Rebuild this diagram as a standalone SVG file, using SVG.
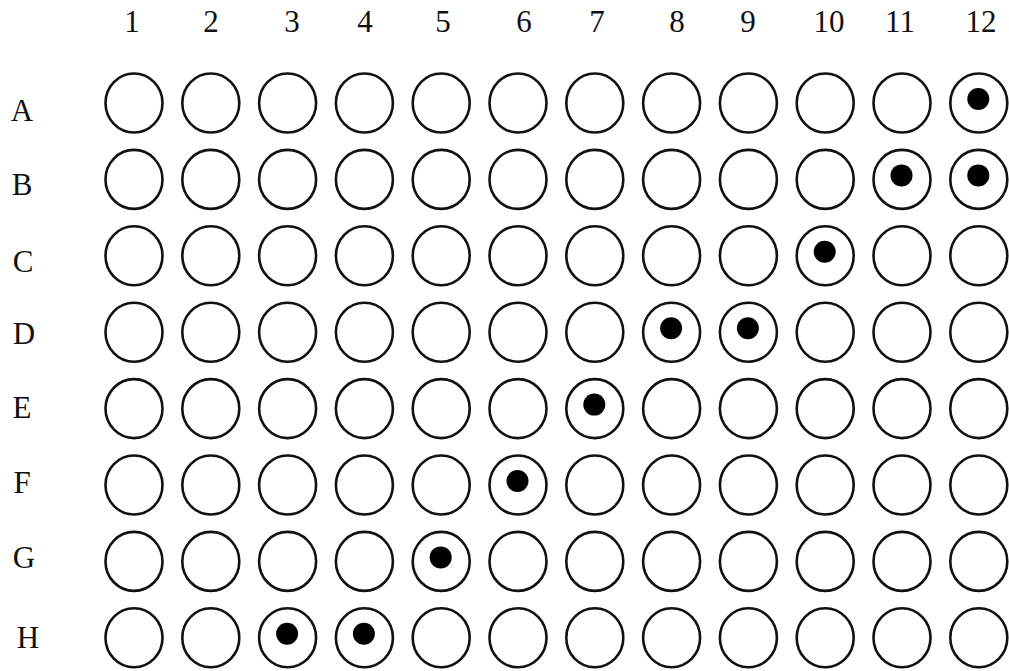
<svg xmlns="http://www.w3.org/2000/svg" width="1009" height="671" viewBox="0 0 1009 671">
<style>
.lbl{font-family:"Liberation Serif","Times New Roman",serif;font-size:31px;fill:#111;text-anchor:middle}
.well{fill:#fff;stroke:#111;stroke-width:2.6}
.dot{fill:#000}
</style>
<rect width="1009" height="671" fill="#fff"/>
<g id="col-labels">
<text class="lbl" x="132" y="32">1</text>
<text class="lbl" x="211" y="32">2</text>
<text class="lbl" x="292" y="32">3</text>
<text class="lbl" x="365" y="32">4</text>
<text class="lbl" x="443" y="32">5</text>
<text class="lbl" x="524" y="32">6</text>
<text class="lbl" x="597" y="32">7</text>
<text class="lbl" x="677" y="32">8</text>
<text class="lbl" x="748" y="32">9</text>
<text class="lbl" x="829" y="32">10</text>
<text class="lbl" x="900" y="32">11</text>
<text class="lbl" x="981" y="32">12</text>
</g>
<g id="row-labels">
<text class="lbl" x="22" y="121">A</text>
<text class="lbl" x="22" y="195">B</text>
<text class="lbl" x="23" y="272">C</text>
<text class="lbl" x="24" y="344">D</text>
<text class="lbl" x="22" y="418">E</text>
<text class="lbl" x="22" y="493">F</text>
<text class="lbl" x="24" y="568">G</text>
<text class="lbl" x="28" y="648">H</text>
</g>
<defs>
<g id="w"><ellipse class="well" cx="0" cy="0" rx="28.5" ry="29.5"/></g>
<g id="wd"><ellipse class="well" cx="0" cy="0" rx="28.5" ry="29.5"/><circle class="dot" cx="-0.5" cy="-4" r="11"/></g>
</defs>
<g id="row-A">
<use href="#w" x="134" y="103"/><use href="#w" x="210.8" y="103"/><use href="#w" x="287.6" y="103"/><use href="#w" x="364.4" y="103"/><use href="#w" x="441.2" y="103"/><use href="#w" x="518" y="103"/><use href="#w" x="594.8" y="103"/><use href="#w" x="671.6" y="103"/><use href="#w" x="748.4" y="103"/><use href="#w" x="825.2" y="103"/><use href="#w" x="902" y="103"/><use href="#wd" x="978.8" y="103"/>
</g>
<g id="row-B">
<use href="#w" x="134" y="179.4"/><use href="#w" x="210.8" y="179.4"/><use href="#w" x="287.6" y="179.4"/><use href="#w" x="364.4" y="179.4"/><use href="#w" x="441.2" y="179.4"/><use href="#w" x="518" y="179.4"/><use href="#w" x="594.8" y="179.4"/><use href="#w" x="671.6" y="179.4"/><use href="#w" x="748.4" y="179.4"/><use href="#w" x="825.2" y="179.4"/><use href="#wd" x="902" y="179.4"/><use href="#wd" x="978.8" y="179.4"/>
</g>
<g id="row-C">
<use href="#w" x="134" y="255.8"/><use href="#w" x="210.8" y="255.8"/><use href="#w" x="287.6" y="255.8"/><use href="#w" x="364.4" y="255.8"/><use href="#w" x="441.2" y="255.8"/><use href="#w" x="518" y="255.8"/><use href="#w" x="594.8" y="255.8"/><use href="#w" x="671.6" y="255.8"/><use href="#w" x="748.4" y="255.8"/><use href="#wd" x="825.2" y="255.8"/><use href="#w" x="902" y="255.8"/><use href="#w" x="978.8" y="255.8"/>
</g>
<g id="row-D">
<use href="#w" x="134" y="332.2"/><use href="#w" x="210.8" y="332.2"/><use href="#w" x="287.6" y="332.2"/><use href="#w" x="364.4" y="332.2"/><use href="#w" x="441.2" y="332.2"/><use href="#w" x="518" y="332.2"/><use href="#w" x="594.8" y="332.2"/><use href="#wd" x="671.6" y="332.2"/><use href="#wd" x="748.4" y="332.2"/><use href="#w" x="825.2" y="332.2"/><use href="#w" x="902" y="332.2"/><use href="#w" x="978.8" y="332.2"/>
</g>
<g id="row-E">
<use href="#w" x="134" y="408.6"/><use href="#w" x="210.8" y="408.6"/><use href="#w" x="287.6" y="408.6"/><use href="#w" x="364.4" y="408.6"/><use href="#w" x="441.2" y="408.6"/><use href="#w" x="518" y="408.6"/><use href="#wd" x="594.8" y="408.6"/><use href="#w" x="671.6" y="408.6"/><use href="#w" x="748.4" y="408.6"/><use href="#w" x="825.2" y="408.6"/><use href="#w" x="902" y="408.6"/><use href="#w" x="978.8" y="408.6"/>
</g>
<g id="row-F">
<use href="#w" x="134" y="485"/><use href="#w" x="210.8" y="485"/><use href="#w" x="287.6" y="485"/><use href="#w" x="364.4" y="485"/><use href="#w" x="441.2" y="485"/><use href="#wd" x="518" y="485"/><use href="#w" x="594.8" y="485"/><use href="#w" x="671.6" y="485"/><use href="#w" x="748.4" y="485"/><use href="#w" x="825.2" y="485"/><use href="#w" x="902" y="485"/><use href="#w" x="978.8" y="485"/>
</g>
<g id="row-G">
<use href="#w" x="134" y="561.4"/><use href="#w" x="210.8" y="561.4"/><use href="#w" x="287.6" y="561.4"/><use href="#w" x="364.4" y="561.4"/><use href="#wd" x="441.2" y="561.4"/><use href="#w" x="518" y="561.4"/><use href="#w" x="594.8" y="561.4"/><use href="#w" x="671.6" y="561.4"/><use href="#w" x="748.4" y="561.4"/><use href="#w" x="825.2" y="561.4"/><use href="#w" x="902" y="561.4"/><use href="#w" x="978.8" y="561.4"/>
</g>
<g id="row-H">
<use href="#w" x="134" y="637.8"/><use href="#w" x="210.8" y="637.8"/><use href="#wd" x="287.6" y="637.8"/><use href="#wd" x="364.4" y="637.8"/><use href="#w" x="441.2" y="637.8"/><use href="#w" x="518" y="637.8"/><use href="#w" x="594.8" y="637.8"/><use href="#w" x="671.6" y="637.8"/><use href="#w" x="748.4" y="637.8"/><use href="#w" x="825.2" y="637.8"/><use href="#w" x="902" y="637.8"/><use href="#w" x="978.8" y="637.8"/>
</g>
</svg>
